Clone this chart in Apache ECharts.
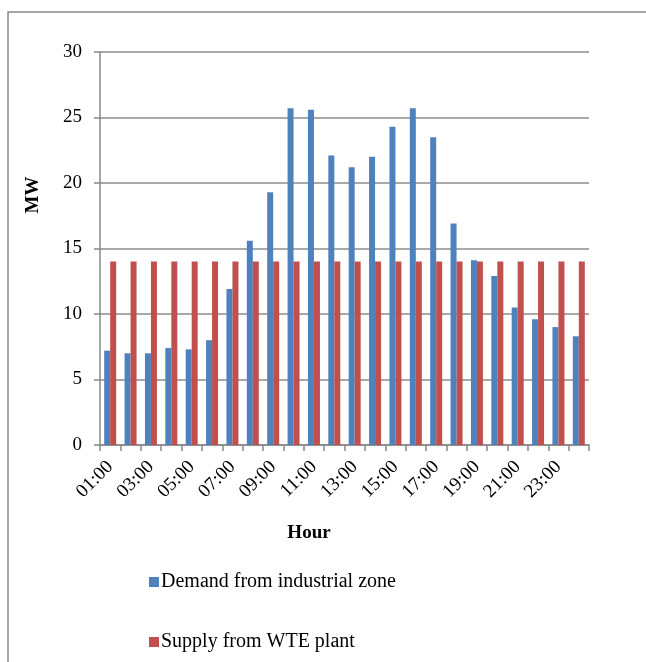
<!DOCTYPE html>
<html>
<head>
<meta charset="utf-8">
<script src="https://cdn.jsdelivr.net/npm/echarts@6/dist/echarts.min.js"></script>
<style>html,body{margin:0;padding:0;background:#fff}#c{width:646px;height:662px}</style>
</head>
<body>
<div id="c"></div>
<script>
var hours = ['01:00','02:00','03:00','04:00','05:00','06:00','07:00','08:00','09:00','10:00','11:00','12:00','13:00','14:00','15:00','16:00','17:00','18:00','19:00','20:00','21:00','22:00','23:00','24:00'];
var demand = [7.2,7.0,7.0,7.4,7.3,8.0,11.9,15.6,19.3,25.7,25.6,22.1,21.2,22.0,24.3,25.7,23.5,16.9,14.1,12.9,10.5,9.6,9.0,8.3];
var supply = [14,14,14,14,14,14,14,14,14,14,14,14,14,14,14,14,14,14,14,14,14,14,14,14];
var yTicks = {min: 0, max: 30, interval: 5};
var seriesNames = ['Demand from industrial zone', 'Supply from WTE plant'];

var FONT = "'Liberation Serif','Times New Roman',serif";
var chart = echarts.init(document.getElementById('c'), null, {renderer: 'canvas'});
chart.setOption({
  animation: false,
  backgroundColor: '#fff',
  textStyle: {fontFamily: FONT, color: '#000'},
  graphic: [
    {type: 'rect', shape: {x: 8, y: 12, width: 700, height: 700}, style: {fill: 'none', stroke: '#8a8a8a', lineWidth: 1.5}, silent: true},
    {type: 'text', x: 33, y: 195, rotation: Math.PI / 2, style: {text: 'MW', font: 'bold 19px ' + FONT, fill: '#000', align: 'center', verticalAlign: 'middle'}},
    {type: 'text', x: 309, y: 533, style: {text: 'Hour', font: 'bold 19px ' + FONT, fill: '#000', align: 'center', verticalAlign: 'middle'}}
  ],
  grid: {left: 100, right: 57, top: 52, bottom: 217, containLabel: false},
  legend: {
    orient: 'vertical', left: 144, top: 567, itemGap: 40,
    icon: 'rect', itemWidth: 10, itemHeight: 10,
    textStyle: {fontFamily: FONT, fontSize: 20, color: '#000', padding: [0, 0, 0, -3]},
    data: seriesNames
  },
  xAxis: {
    type: 'category', data: hours, boundaryGap: true,
    axisLine: {lineStyle: {color: '#888', width: 1.5}},
    axisTick: {show: true, interval: 0, length: 6, lineStyle: {color: '#888', width: 1.5}},
    axisLabel: {interval: 1, rotate: 45, fontFamily: FONT, fontSize: 19, color: '#000', margin: 19}
  },
  yAxis: {
    type: 'value', min: yTicks.min, max: yTicks.max, interval: yTicks.interval,
    axisLine: {show: true, lineStyle: {color: '#888', width: 1.5}},
    axisTick: {show: true, length: 6, lineStyle: {color: '#888', width: 1.5}},
    axisLabel: {fontFamily: FONT, fontSize: 19, color: '#000', margin: 18},
    splitLine: {lineStyle: {color: '#8c8c8c', width: 1.5}}
  },
  series: [
    {name: seriesNames[0], type: 'bar', data: demand, barWidth: 6, barGap: '0%', itemStyle: {color: '#4F81BD'}},
    {name: seriesNames[1], type: 'bar', data: supply, barWidth: 6, barGap: '0%', itemStyle: {color: '#C0504D'}}
  ]
});
</script>
</body>
</html>
